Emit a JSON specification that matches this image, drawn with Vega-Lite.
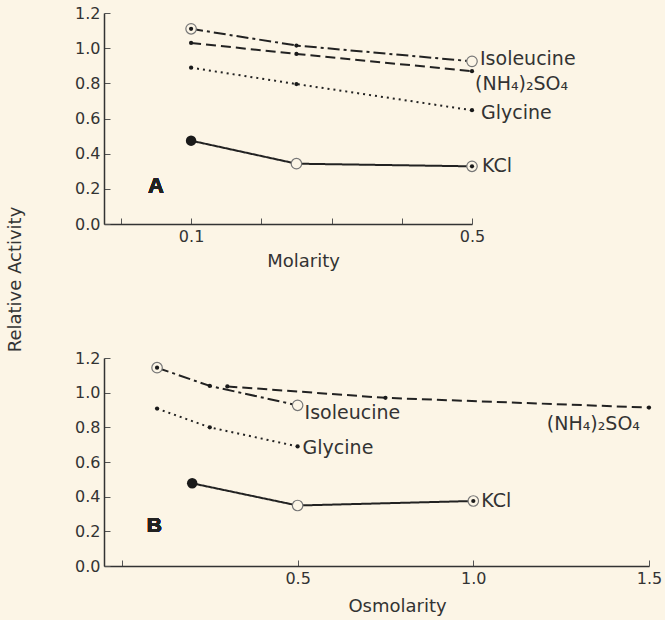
{
  "$schema": "https://vega.github.io/schema/vega-lite/v6.json",
  "background": "#fcf5e6",
  "padding": {"left": 6, "top": 5, "right": 5, "bottom": 5},
  "bounds": "flush",
  "spacing": 134,
  "datasets": {
    "molar": [
      {"series": "Isoleucine", "conc": 0.1, "activity": 1.11, "pt": "circled"},
      {"series": "Isoleucine", "conc": 0.25, "activity": 1.015, "pt": "dot"},
      {"series": "Isoleucine", "conc": 0.5, "activity": 0.925, "pt": "open"},
      {"series": "(NH₄)₂SO₄", "conc": 0.1, "activity": 1.03, "pt": "dot"},
      {"series": "(NH₄)₂SO₄", "conc": 0.25, "activity": 0.967, "pt": "dot"},
      {"series": "(NH₄)₂SO₄", "conc": 0.5, "activity": 0.869, "pt": "dot"},
      {"series": "Glycine", "conc": 0.1, "activity": 0.889, "pt": "dot"},
      {"series": "Glycine", "conc": 0.25, "activity": 0.796, "pt": "dot"},
      {"series": "Glycine", "conc": 0.5, "activity": 0.647, "pt": "dot"},
      {"series": "KCl", "conc": 0.1, "activity": 0.474, "pt": "filled"},
      {"series": "KCl", "conc": 0.25, "activity": 0.343, "pt": "open"},
      {"series": "KCl", "conc": 0.5, "activity": 0.328, "pt": "circled"}
    ],
    "osmolar": [
      {"series": "Isoleucine", "conc": 0.1, "activity": 1.144, "pt": "circled"},
      {"series": "Isoleucine", "conc": 0.25, "activity": 1.039, "pt": "dot"},
      {"series": "Isoleucine", "conc": 0.5, "activity": 0.927, "pt": "open"},
      {"series": "(NH₄)₂SO₄", "conc": 0.3, "activity": 1.036, "pt": "dot"},
      {"series": "(NH₄)₂SO₄", "conc": 0.75, "activity": 0.97, "pt": "dot"},
      {"series": "(NH₄)₂SO₄", "conc": 1.5, "activity": 0.914, "pt": "dot"},
      {"series": "Glycine", "conc": 0.1, "activity": 0.908, "pt": "dot"},
      {"series": "Glycine", "conc": 0.25, "activity": 0.8, "pt": "dot"},
      {"series": "Glycine", "conc": 0.5, "activity": 0.69, "pt": "dot"},
      {"series": "KCl", "conc": 0.2, "activity": 0.477, "pt": "filled"},
      {"series": "KCl", "conc": 0.5, "activity": 0.349, "pt": "open"},
      {"series": "KCl", "conc": 1.0, "activity": 0.375, "pt": "circled"}
    ]
  },
  "vconcat": [
    {
      "width": 368,
      "height": 211,
      "data": {"name": "molar"},
      "encoding": {
        "x": {"field": "conc", "type": "quantitative",
          "scale": {"domain": [-0.024, 0.5], "nice": false, "zero": false},
          "axis": {"values": [0, 0.1, 0.2, 0.3, 0.4, 0.5], "format": ".1f",
            "labelExpr": "datum.value == 0.1 || datum.value == 0.5 ? datum.label : ''",
            "title": "Molarity", "titleX": 199, "titleY": 37, "titleAlign": "center", "titleBaseline": "middle"}},
        "y": {"field": "activity", "type": "quantitative",
          "scale": {"domain": [0, 1.2], "nice": false},
          "axis": {"values": [0, 0.2, 0.4, 0.6, 0.8, 1.0, 1.2], "format": ".1f",
            "title": "Relative Activity", "titleAngle": 270, "titleX": -89, "titleY": 266,
            "titleAlign": "center", "titleBaseline": "middle"}}
      },
      "layer": [
        {"mark": {"type": "line", "color": "#222", "strokeWidth": 2},
          "encoding": {"strokeDash": {"field": "series", "type": "nominal", "legend": null,
            "scale": {"domain": ["Isoleucine", "(NH₄)₂SO₄", "Glycine", "KCl"], "range": [[12, 4, 3, 4], [10, 5], [2, 4], [1, 0]]}}}},
        {"transform": [{"filter": "datum.pt == 'open' || datum.pt == 'circled'"}],
          "mark": {"type": "circle", "size": 110, "fill": "#fcf5e6", "fillOpacity": 1, "stroke": "#777", "strokeWidth": 1.2}},
        {"transform": [{"filter": "datum.pt == 'filled'"}],
          "mark": {"type": "circle", "size": 110, "color": "#1a1a1a", "opacity": 1}},
        {"transform": [{"filter": "datum.pt == 'dot' || datum.pt == 'circled'"}],
          "mark": {"type": "circle", "size": 18, "color": "#1a1a1a", "opacity": 1}},
        {"transform": [{"filter": "datum.conc == 0.5 && datum.series == 'Isoleucine'"}],
          "mark": {"type": "text", "align": "left", "baseline": "middle", "dx": 8, "dy": -2, "font": "DejaVu Sans", "fontSize": 19, "color": "#333"},
          "encoding": {"text": {"field": "series"}}},
        {"transform": [{"filter": "datum.conc == 0.5 && datum.series == '(NH₄)₂SO₄'"}],
          "mark": {"type": "text", "align": "left", "baseline": "middle", "dx": 3, "dy": 13, "font": "DejaVu Sans", "fontSize": 19, "color": "#333"},
          "encoding": {"text": {"field": "series"}}},
        {"transform": [{"filter": "datum.conc == 0.5 && datum.series == 'Glycine'"}],
          "mark": {"type": "text", "align": "left", "baseline": "middle", "dx": 9, "dy": 3, "font": "DejaVu Sans", "fontSize": 19, "color": "#333"},
          "encoding": {"text": {"field": "series"}}},
        {"transform": [{"filter": "datum.conc == 0.5 && datum.series == 'KCl'"}],
          "mark": {"type": "text", "align": "left", "baseline": "middle", "dx": 10, "dy": 0, "font": "DejaVu Sans", "fontSize": 19, "color": "#333"},
          "encoding": {"text": {"field": "series"}}},
        {"mark": {"type": "text", "text": "A", "font": "Liberation Sans", "fontWeight": "bold", "fontSize": 22, "color": "#222", "baseline": "middle", "align": "center"},
          "encoding": {"x": {"datum": 0.05}, "y": {"datum": 0.216}}}
      ]
    },
    {
      "width": 545,
      "height": 208,
      "data": {"name": "osmolar"},
      "encoding": {
        "x": {"field": "conc", "type": "quantitative",
          "scale": {"domain": [-0.051, 1.5], "nice": false, "zero": false},
          "axis": {"values": [0, 0.5, 1.0, 1.5], "format": ".1f",
            "labelExpr": "datum.value == 0 ? '' : datum.label",
            "title": "Osmolarity", "titleX": 293, "titleY": 40, "titleAlign": "center", "titleBaseline": "middle"}},
        "y": {"field": "activity", "type": "quantitative",
          "scale": {"domain": [0, 1.2], "nice": false},
          "axis": {"values": [0, 0.2, 0.4, 0.6, 0.8, 1.0, 1.2], "format": ".1f", "title": null}}
      },
      "layer": [
        {"mark": {"type": "line", "color": "#222", "strokeWidth": 2},
          "encoding": {"strokeDash": {"field": "series", "type": "nominal", "legend": null,
            "scale": {"domain": ["Isoleucine", "(NH₄)₂SO₄", "Glycine", "KCl"], "range": [[12, 4, 3, 4], [10, 5], [2, 4], [1, 0]]}}}},
        {"transform": [{"filter": "datum.pt == 'open' || datum.pt == 'circled'"}],
          "mark": {"type": "circle", "size": 110, "fill": "#fcf5e6", "fillOpacity": 1, "stroke": "#777", "strokeWidth": 1.2}},
        {"transform": [{"filter": "datum.pt == 'filled'"}],
          "mark": {"type": "circle", "size": 110, "color": "#1a1a1a", "opacity": 1}},
        {"transform": [{"filter": "datum.pt == 'dot' || datum.pt == 'circled'"}],
          "mark": {"type": "circle", "size": 18, "color": "#1a1a1a", "opacity": 1}},
        {"transform": [{"filter": "datum.conc == 0.5 && datum.series == 'Isoleucine'"}],
          "mark": {"type": "text", "align": "left", "baseline": "middle", "dx": 7, "dy": 8, "font": "DejaVu Sans", "fontSize": 19, "color": "#333"},
          "encoding": {"text": {"field": "series"}}},
        {"transform": [{"filter": "datum.conc == 1.5 && datum.series == '(NH₄)₂SO₄'"}],
          "mark": {"type": "text", "align": "right", "baseline": "middle", "dx": -9, "dy": 16, "font": "DejaVu Sans", "fontSize": 19, "color": "#333"},
          "encoding": {"text": {"field": "series"}}},
        {"transform": [{"filter": "datum.conc == 0.5 && datum.series == 'Glycine'"}],
          "mark": {"type": "text", "align": "left", "baseline": "middle", "dx": 5, "dy": 2, "font": "DejaVu Sans", "fontSize": 19, "color": "#333"},
          "encoding": {"text": {"field": "series"}}},
        {"transform": [{"filter": "datum.conc == 1.0 && datum.series == 'KCl'"}],
          "mark": {"type": "text", "align": "left", "baseline": "middle", "dx": 8, "dy": 0, "font": "DejaVu Sans", "fontSize": 19, "color": "#333"},
          "encoding": {"text": {"field": "series"}}},
        {"mark": {"type": "text", "text": "B", "font": "Liberation Sans", "fontWeight": "bold", "fontSize": 21, "color": "#222", "baseline": "middle", "align": "center"},
          "encoding": {"x": {"datum": 0.092}, "y": {"datum": 0.23}}}
      ]
    }
  ],
  "config": {
    "view": {"stroke": null},
    "axis": {
      "grid": false,
      "domainColor": "#333", "domainWidth": 1.5,
      "tickColor": "#555", "tickSize": -6, "tickWidth": 1,
      "labelFont": "DejaVu Sans", "labelFontSize": 16, "labelColor": "#333", "labelPadding": 10,
      "labelFlush": false, "labelOverlap": false,
      "titleFont": "DejaVu Sans", "titleFontSize": 18, "titleFontWeight": "normal", "titleColor": "#333"
    }
  }
}
